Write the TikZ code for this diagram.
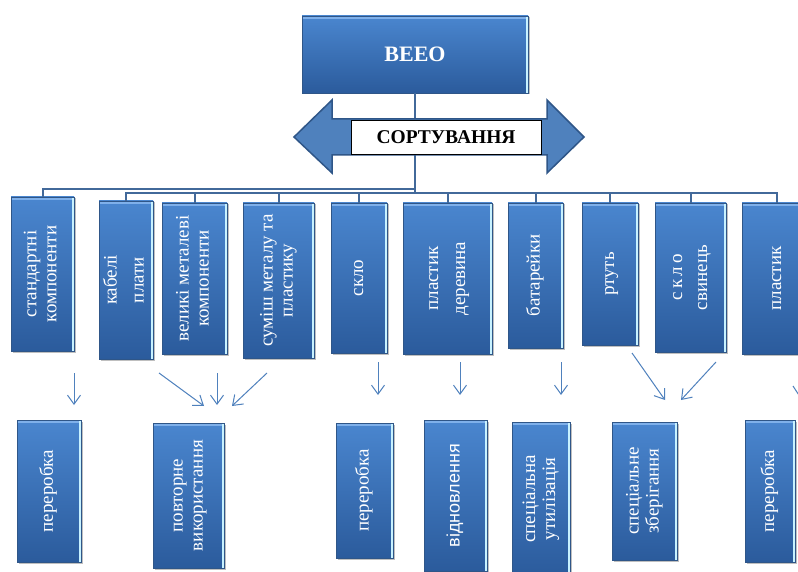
\documentclass[tikz,border=0pt]{standalone}
\usepackage{fontspec}
\usepackage{graphicx}
\setmainfont{Liberation Serif}
\newfontfamily\sansf{Liberation Sans}
\usetikzlibrary{shadows,arrows.meta}
\definecolor{boxtop}{HTML}{4A86CF}
\definecolor{boxbot}{HTML}{2B5B9C}
\definecolor{boxedge}{HTML}{2F5688}
\definecolor{hilite}{HTML}{C8F2FF}
\definecolor{bevel}{HTML}{7FB0EA}
\definecolor{treeblue}{HTML}{42699A}
\definecolor{arrblue}{HTML}{4F81BD}
\newcommand{\rtext}[1]{\rotatebox{90}{\begin{tabular}{@{}c@{}}#1\end{tabular}}}
\tikzset{
  box/.style={draw=boxedge, line width=0.6pt, top color=boxtop, bottom color=boxbot,
    inner sep=0pt, text=white, font=\fontsize{19}{20}\selectfont,
    drop shadow={shadow xshift=1.5pt, shadow yshift=-1.5pt, fill=black, opacity=0.25},
    path picture={
      \fill[bevel] (path picture bounding box.north west) rectangle ([yshift=-3pt]path picture bounding box.north east);
      \fill[hilite] ([xshift=-2.5pt]path picture bounding box.north east) rectangle (path picture bounding box.south east);
    }},
  tree/.style={draw=treeblue, line width=2pt},
  arr/.style={draw=arrblue, line width=1pt, -{Straight Barb[length=9pt,width=13pt]}},
}
\begin{document}
\begin{tikzpicture}[x=1pt,y=-1pt]
\useasboundingbox (0,0) rectangle (798,572);
\fill[white] (0,0) rectangle (798,572);

% top box
\node[box, minimum width=226pt, minimum height=77pt, font=\fontsize{22}{24}\selectfont\bfseries] (veeo) at (415,54.5) {ВЕЕО};

% tree lines
\coordinate (j) at (415,193);
\coordinate (jl) at (415,189);
\draw[tree] (veeo.south) -- (j);

% top row
\node[box, minimum width=63pt, minimum height=154pt] (t1) at (42.5,274) {\rtext{стандартні\\компоненти}};
\node[box, minimum width=54pt, minimum height=158pt] (t2) at (126,280) {\rtext{кабелі\\[7pt]плати}};
\node[box, minimum width=65pt, minimum height=151pt] (t3) at (194.5,278.5) {\rtext{великі металеві\\компоненти}};
\node[box, minimum width=71pt, minimum height=155pt] (t4) at (278.5,280.5) {\rtext{суміш металу та\\пластику}};
\node[box, minimum width=56pt, minimum height=150pt] (t5) at (359,278) {\rtext{скло}};
\node[box, minimum width=89pt, minimum height=151pt] (t6) at (447.5,278.5) {\rtext{пластик\\[7pt]деревина}};
\node[box, minimum width=55pt, minimum height=145pt] (t7) at (535.5,275.5) {\rtext{батарейки}};
\node[box, minimum width=56pt, minimum height=142pt] (t8) at (610,274) {\rtext{ртуть}};
\node[box, minimum width=71pt, minimum height=149pt] (t9) at (690.5,277.5) {\rtext{с\,к\,л\,о\\[5pt]свинець}};
\node[box, minimum width=70pt, minimum height=151pt] (t10) at (777,278.5) {\rtext{пластик}};

\draw[tree] (jl) -| (t1.north);
\foreach \n in {t2,t3,t4,t5,t6,t7,t8,t9,t10}{\draw[tree] (j) -| (\n.north);}

% double arrow
\draw[fill=arrblue, draw=boxedge, line width=1.5pt, line join=miter]
  (294,137) -- (332,100) -- (332,119) -- (547,119) -- (547,100) -- (584,137)
  -- (547,173) -- (547,155) -- (332,155) -- (332,173) -- cycle;
\node[draw=black, line width=0.8pt, fill=white, minimum width=190pt, minimum height=34pt, inner sep=0pt,
  font=\fontsize{19.5}{21}\selectfont\bfseries] (sort) at (446,137) {СОРТУВАННЯ};

% bottom row
\node[box, minimum width=64pt, minimum height=142pt] (b1) at (49,491) {\rtext{переробка}};
\node[box, minimum width=71pt, minimum height=145pt] (b2) at (188.5,495.5) {\rtext{повторне\\використання}};
\node[box, minimum width=57pt, minimum height=135pt] (b3) at (364.5,490.5) {\rtext{переробка}};
\node[box, minimum width=63pt, minimum height=151pt] (b4) at (455.5,495.5) {\rtext{\sansf\fontsize{18}{20}\selectfont відновлення}};
\node[box, minimum width=58pt, minimum height=154pt] (b5) at (541,499) {\rtext{спеціальна\\утилізація}};
\node[box, minimum width=65pt, minimum height=138pt] (b6) at (644.5,491) {\rtext{спеціальне\\зберігання}};
\node[box, minimum width=50pt, minimum height=142pt] (b7) at (770,491) {\rtext{переробка}};

% arrows
\coordinate (a1s) at (74,373); \coordinate (a1e) at (74,405);
\coordinate (a2s) at (159,373); \coordinate (a2e) at (204,406);
\coordinate (a3s) at (217,373); \coordinate (a3e) at (217,405);
\coordinate (a4s) at (267,373); \coordinate (a4e) at (232,406);
\coordinate (a5s) at (378,362); \coordinate (a5e) at (378,395);
\coordinate (a6s) at (460,362); \coordinate (a6e) at (460,395);
\coordinate (a7s) at (561,362); \coordinate (a7e) at (561,395);
\coordinate (a8s) at (632,353); \coordinate (a8e) at (665,400);
\coordinate (a9s) at (716,362); \coordinate (a9e) at (681,400);
\coordinate (a10s) at (793,386); \coordinate (a10e) at (815,420);
\foreach \i in {1,...,9}{\draw[arr] (a\i s) -- (a\i e);}
\draw[draw=arrblue, line width=1pt] (a10s) -- (a10e);
\end{tikzpicture}
\end{document}
